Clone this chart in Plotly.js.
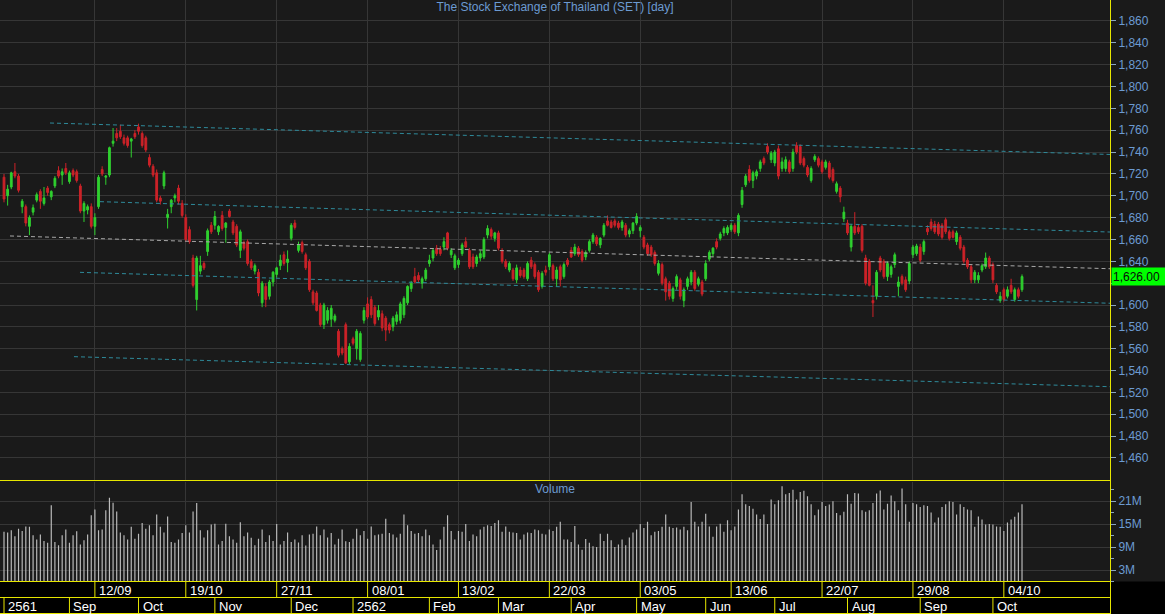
<!DOCTYPE html>
<html><head><meta charset="utf-8">
<script src="https://cdn.plot.ly/plotly-3.0.1.min.js"></script>
<style>html,body{margin:0;padding:0;background:#1a1a1a;overflow:hidden}#chart{width:1165px;height:614px}</style>
</head><body><div id="chart"></div>
<script>
// ---------------- DATA ----------------
const chartTitle = 'The Stock Exchange of Thailand (SET) [day]';

const openPx = [
1717,1700,1708,1722,1718,1690,1690,1672,1685,1696,1704,1693,1707,1699,1709,1723,1719,1725,1713,1723,1722,1709,1686,1687,1690,1672,1690,1724,1717,1719,1748,1757,1759,1753,1753,1750,1757,1763,1757,1753,1735,1727,1721,1698,1709,1680,1690,1698,1707,
1693,1680,1669,1643,1605,1631,1638,1649,1673,1673,1667,1682,1671,1686,1676,1672,1650,1657,1658,1640,1631,1630,1602,1617,1608,1621,1628,1636,1646,1639,1661,1675,1650,1657,1646,1640,1612,1611,1600,1582,1586,1587,1586,1576,1560,1582,1548,1569,1560,1550,
1586,1601,1605,1598,1589,1592,1588,1582,1580,1585,1586,1591,1602,1615,1626,1627,1620,1624,1638,1643,1652,1651,1653,1666,1646,1634,1637,1647,1658,1650,1644,1638,1643,1644,1664,1669,1661,1666,1650,1640,1632,1632,1623,1632,1632,1624,1641,1637,1630,1617,1632,
1635,1636,1624,1635,1626,1641,1650,1647,1652,1649,1644,1650,1658,1662,1655,1664,1677,1676,1677,1675,1671,1673,1665,1668,1675,1668,1662,1655,1653,1648,1629,1637,1624,1620,1606,1617,1623,1604,1617,1621,1630,1619,1621,1624,1642,1647,1658,1661,1666,1666,
1669,1673,1666,1692,1710,1724,1714,1718,1725,1734,1745,1733,1730,1743,1725,1725,1731,1725,1746,1745,1734,1726,1714,1733,1734,1731,1726,1730,1724,1704,1707,1679,1675,1653,1672,1671,1672,1643,1640,1604,1608,1643,1640,1626,1628,1637,1617,1626,
1623,1622,1646,1647,1653,1649,1670,1676,1674,1674,1673,1678,1667,1667,1658,1662,1653,1641,1635,1623,1623,1632,1635,1643,1637,1618,1604,1614,1608,1618,1605,1614,1614
];
const highPx = [
1720,1710,1722,1730,1720,1697,1692,1682,1692,1703,1706,1708,1709,1705,1718,1727,1725,1730,1723,1725,1724,1711,1695,1692,1693,1684,1719,1727,1719,1745,1762,1762,1765,1756,1755,1753,1760,1766,1759,1755,1738,1729,1724,1700,1723,1688,1697,1702,1710,
1696,1683,1672,1646,1645,1645,1640,1670,1676,1686,1673,1686,1676,1688,1678,1674,1669,1659,1660,1642,1638,1633,1622,1620,1623,1631,1635,1646,1649,1650,1675,1678,1658,1659,1648,1642,1614,1613,1602,1602,1598,1600,1592,1578,1562,1584,1565,1571,1578,1576,
1598,1607,1608,1600,1600,1595,1590,1584,1590,1594,1603,1608,1618,1622,1634,1630,1626,1634,1646,1652,1655,1654,1662,1667,1652,1647,1643,1657,1662,1652,1647,1646,1650,1662,1673,1671,1667,1668,1652,1642,1640,1634,1637,1635,1634,1640,1644,1639,1632,1631,1636,
1648,1638,1635,1637,1639,1643,1653,1656,1654,1651,1650,1660,1666,1664,1662,1675,1682,1678,1679,1677,1678,1675,1670,1676,1684,1673,1664,1657,1655,1650,1641,1639,1626,1622,1617,1628,1625,1616,1626,1632,1632,1626,1623,1641,1650,1653,1661,1667,1672,1673,
1675,1675,1684,1708,1720,1728,1723,1724,1733,1736,1748,1741,1742,1746,1735,1736,1733,1743,1749,1747,1736,1728,1727,1738,1736,1733,1733,1732,1726,1713,1709,1690,1678,1674,1685,1674,1674,1646,1642,1618,1632,1645,1642,1640,1637,1648,1626,1628,
1626,1640,1655,1656,1656,1660,1673,1679,1677,1676,1675,1680,1669,1669,1668,1664,1655,1643,1637,1632,1630,1638,1648,1645,1639,1620,1612,1616,1617,1624,1616,1616,1628
];
const lowPx = [
1694,1691,1706,1716,1703,1684,1672,1664,1682,1694,1688,1691,1700,1696,1707,1716,1710,1719,1711,1717,1712,1684,1676,1683,1670,1664,1688,1718,1710,1717,1745,1750,1752,1746,1744,1735,1752,1756,1744,1740,1726,1717,1694,1692,1706,1670,1684,1694,1692,
1680,1658,1656,1616,1595,1628,1632,1645,1665,1669,1664,1668,1657,1680,1664,1653,1643,1650,1636,1632,1628,1608,1598,1598,1605,1617,1625,1632,1636,1630,1659,1669,1648,1647,1632,1612,1600,1594,1580,1578,1583,1580,1584,1552,1554,1546,1546,1563,1550,1548,
1583,1587,1588,1581,1586,1576,1567,1574,1576,1582,1583,1588,1600,1612,1620,1621,1615,1622,1635,1640,1645,1645,1650,1650,1643,1632,1634,1645,1652,1633,1633,1635,1640,1642,1661,1660,1658,1650,1638,1633,1630,1622,1620,1625,1624,1622,1633,1624,1612,1615,1627,
1632,1622,1617,1617,1624,1635,1643,1645,1644,1639,1641,1648,1656,1654,1652,1662,1672,1670,1671,1669,1668,1662,1662,1665,1673,1662,1651,1645,1644,1636,1627,1618,1604,1605,1603,1614,1605,1598,1614,1618,1613,1617,1608,1622,1640,1644,1651,1659,1663,1664,
1667,1665,1663,1689,1708,1712,1707,1715,1722,1728,1738,1730,1727,1715,1722,1722,1720,1722,1738,1728,1726,1717,1712,1731,1726,1720,1724,1715,1712,1702,1694,1676,1664,1649,1664,1665,1648,1618,1617,1589,1605,1630,1624,1622,1625,1634,1608,1618,
1612,1619,1643,1645,1639,1646,1664,1668,1665,1663,1660,1665,1659,1661,1655,1650,1638,1633,1620,1620,1620,1630,1633,1633,1620,1610,1602,1603,1606,1610,1603,1606,1612
];
const closePx = [
1697,1706,1721,1718,1705,1695,1675,1680,1689,1701,1695,1698,1703,1704,1716,1718,1722,1721,1721,1719,1714,1686,1693,1690,1672,1680,1717,1720,1718,1744,1750,1753,1754,1748,1746,1752,1754,1759,1746,1742,1728,1719,1696,1695,1721,1683,1696,1700,1695,
1682,1660,1658,1618,1643,1636,1634,1668,1667,1681,1672,1670,1675,1681,1666,1655,1667,1652,1638,1634,1636,1611,1620,1605,1621,1630,1634,1641,1638,1642,1673,1671,1655,1649,1634,1614,1602,1595,1582,1600,1595,1597,1590,1554,1556,1547,1562,1565,1576,1574,
1595,1589,1591,1583,1595,1579,1577,1577,1588,1591,1601,1606,1617,1620,1621,1623,1624,1632,1641,1650,1647,1647,1658,1652,1650,1645,1641,1655,1653,1635,1635,1644,1647,1660,1670,1663,1666,1652,1640,1635,1638,1624,1634,1627,1626,1638,1635,1626,1614,1629,1630,
1646,1624,1632,1623,1637,1637,1644,1653,1646,1641,1648,1658,1664,1656,1661,1673,1673,1671,1673,1671,1676,1664,1668,1675,1681,1671,1653,1647,1646,1638,1638,1620,1612,1608,1615,1626,1608,1614,1624,1630,1615,1624,1610,1638,1648,1652,1653,1665,1670,1671,
1673,1667,1682,1705,1718,1714,1721,1722,1731,1730,1740,1739,1740,1718,1731,1733,1722,1740,1740,1730,1728,1719,1725,1736,1728,1722,1731,1717,1714,1711,1699,1685,1666,1672,1666,1667,1650,1620,1618,1602,1630,1632,1626,1638,1635,1646,1621,1620,
1614,1638,1653,1654,1641,1658,1667,1670,1667,1665,1662,1667,1661,1662,1666,1652,1640,1635,1623,1630,1627,1636,1643,1635,1623,1612,1608,1605,1614,1612,1614,1608,1626
];
// volume in millions of shares
const volumeM = [
13.0,12.8,13.4,11.8,13.8,13.2,14.4,14.3,12.1,11.0,
12.3,10.6,10.1,19.9,10.3,9.5,12.1,13.6,10.1,12.1,
13.1,9.7,10.8,12.3,17.3,18.8,13.4,13.6,18.6,21.9,
20.6,18.3,12.8,12.1,11.0,14.3,11.2,12.5,15.3,13.8,
14.7,12.1,17.5,14.3,12.8,17.0,10.3,10.1,11.0,12.7,
14.7,12.8,18.3,20.5,13.4,11.5,13.4,14.9,15.1,9.7,
10.6,15.1,11.8,11.0,10.1,15.5,11.8,12.8,11.4,9.5,
11.2,13.6,10.3,12.1,10.6,15.0,9.7,10.6,12.8,10.3,
11.0,10.2,12.1,9.4,12.3,12.5,14.4,12.1,13.6,11.5,
12.7,9.7,11.2,13.6,10.5,10.3,11.2,13.8,12.1,13.2,
11.2,14.4,12.1,12.3,12.5,16.4,12.7,12.3,11.5,12.5,
17.5,14.7,13.2,12.5,12.7,11.8,13.6,12.1,9.7,8.2,
11.0,14.3,17.3,13.2,11.0,13.2,13.0,15.0,10.6,12.3,
11.8,13.6,14.3,14.7,14.5,15.3,16.0,13.0,14.4,13.0,
12.8,
12.7,11.0,12.3,12.8,12.7,13.6,13.4,12.5,12.3,13.6,
13.2,14.3,15.6,11.0,11.0,10.3,14.5,9.7,8.3,11.1,
10.1,9.2,9.0,12.5,10.6,12.5,10.8,9.0,9.7,11.0,
9.5,11.5,12.8,13.6,15.0,14.0,15.6,12.1,13.0,13.2,
14.3,17.5,14.3,14.0,14.1,13.6,14.3,13.4,20.8,15.6,
14.4,15.6,17.7,14.4,11.7,14.4,15.1,13.0,16.0,13.4,
14.4,18.8,22.8,20.2,19.7,19.0,17.5,16.3,17.5,15.0,
21.4,20.2,21.2,24.9,22.8,23.1,24.0,21.4,23.4,23.7,
22.3,20.2,17.3,18.8,20.8,19.7,20.1,21.0,17.9,17.3,
18.2,22.8,20.3,23.1,23.0,18.6,18.2,18.6,20.5,23.0,
23.8,18.8,20.3,22.5,21.0,18.6,24.3,20.2,15.6,20.5,
20.2,19.5,19.9,19.7,18.0,15.4,16.7,19.5,20.2,21.0,
20.8,17.5,20.2,19.5,18.8,18.6,14.3,17.0,16.2,14.9,
15.0,14.9,14.4,14.3,13.2,15.4,16.2,16.9,18.0,20.2
];

// price-axis and volume-axis tick labels (1,620 is hidden behind the last-price box in the reference)
const priceTicks = [1460,1480,1500,1520,1540,1560,1580,1600,1620,1640,1660,1680,1700,1720,1740,1760,1780,1800,1820,1840,1860];
const priceTickText = ['1,460','1,480','1,500','1,520','1,540','1,560','1,580','1,600','','1,640','1,660','1,680','1,700','1,720','1,740','1,760','1,780','1,800','1,820','1,840','1,860'];
const volumeTicks = [3,9,15,21];
const volumeTickText = ['3M','9M','15M','21M'];

// bottom date strip: every 25 bars, and month starts (bar index)
const dateLabels = ['12/09','19/10','27/11','08/01','13/02','22/03','03/05','13/06','22/07','29/08','04/10'];
const dateLabelBars = [25,50,75,100,125,150,175,200,225,250,275];
const monthLabels = ['2561','Sep','Oct','Nov','Dec','2562','Feb','Mar','Apr','May','Jun','Jul','Aug','Sep','Oct'];
const monthStartBars = [0,18,37,58,79,96,117,136,156,174,193,212,232,252,272];

// drawn trend lines (bar index / price at both ends)
const trendStartBar   = [12.65, 26.4, 1.65, 20.9, 19.25];
const trendStartPrice = [1766.6, 1694.6, 1663.2, 1629.9, 1552.7];
const trendEndBar     = [304.2, 304.2, 304.2, 304.2, 304.2];
const trendEndPrice   = [1737.8, 1666.8, 1633.2, 1601.6, 1525.2];
const trendColor      = ['#2e8a9a','#2e8a9a','#a8a8a8','#2e8a9a','#2e8a9a'];

// ---------------- CHART ----------------
const W = 1165, H = 614;
const PLOT_RIGHT = 1110;
const pxX = p => p / W;
const pxY = p => 1 - p / H;

const n = Math.min(openPx.length, highPx.length, lowPx.length, closePx.length);
const barIdx = Array.from({length: n}, (_, i) => i);
const volIdx = Array.from({length: volumeM.length}, (_, i) => i);

const GREEN = '#2fd02f', RED = '#cc2228';
const YELLOW = '#e6e600';
const BLUE_TXT = '#6c9bd2';
const GRID = '#363636';
const FONT = 'Liberation Sans, Arial, sans-serif';

const traces = [];
for (let k = 0; k < trendStartBar.length; k++) {
  traces.push({
    type: 'scatter', mode: 'lines', xaxis: 'x', yaxis: 'y',
    x: [trendStartBar[k], trendEndBar[k]],
    y: [trendStartPrice[k], trendEndPrice[k]],
    line: {color: trendColor[k], width: 1, dash: '4px,3px'},
    hoverinfo: 'skip'
  });
}
traces.push({
  type: 'candlestick', xaxis: 'x', yaxis: 'y',
  x: barIdx.slice(0, n), open: openPx.slice(0, n), high: highPx.slice(0, n),
  low: lowPx.slice(0, n), close: closePx.slice(0, n),
  increasing: {line: {color: GREEN, width: 1}, fillcolor: GREEN},
  decreasing: {line: {color: RED, width: 1}, fillcolor: RED},
  whiskerwidth: 0, hoverinfo: 'skip'
});
traces.push({
  type: 'bar', xaxis: 'x2', yaxis: 'y2',
  x: volIdx, y: volumeM, width: 0.32,
  marker: {color: '#bdbdbd', line: {width: 0}},
  hoverinfo: 'skip'
});

const shapes = [];
const hline = (py, x0px, x1px) => shapes.push({type:'line', xref:'paper', yref:'paper',
  x0: pxX(x0px), x1: pxX(x1px), y0: pxY(py), y1: pxY(py), line:{color: YELLOW, width: 1}});
// bottom black strip
shapes.push({type:'rect', xref:'paper', yref:'paper', x0:0, x1:1, y0:0, y1:pxY(581.5),
  fillcolor:'#000000', line:{width:0}, layer:'below'});
hline(480.5, 0, PLOT_RIGHT);
hline(581.5, 0, PLOT_RIGHT);
hline(597.5, 0, PLOT_RIGHT);
hline(613.5, 0, PLOT_RIGHT);
shapes.push({type:'line', xref:'paper', yref:'paper', x0:pxX(PLOT_RIGHT+0.5), x1:pxX(PLOT_RIGHT+0.5),
  y0:0, y1:pxY(480), line:{color: YELLOW, width:1}});
dateLabelBars.forEach(b => shapes.push({type:'line', xref:'x', yref:'paper', x0:b, x1:b,
  y0:pxY(597.5), y1:pxY(581.5), line:{color: YELLOW, width:1}}));
monthStartBars.forEach(b => shapes.push({type:'line', xref:'x', yref:'paper', x0:b, x1:b,
  y0:pxY(613.5), y1:pxY(597.5), line:{color: YELLOW, width:1}}));

const annotations = [];
dateLabels.forEach((t, i) => annotations.push({xref:'x', yref:'paper', x: dateLabelBars[i], y: pxY(590),
  xanchor:'left', yanchor:'middle', xshift: 2, text: t, showarrow:false,
  font:{family: FONT, size: 13, color:'#ffffff'}}));
monthLabels.forEach((t, i) => annotations.push({xref:'x', yref:'paper', x: monthStartBars[i], y: pxY(606),
  xanchor:'left', yanchor:'middle', xshift: 2, text: t, showarrow:false,
  font:{family: FONT, size: 13, color:'#ffffff'}}));
annotations.push({xref:'paper', yref:'paper', x: pxX(555), y: pxY(489), xanchor:'center', yanchor:'middle',
  text:'Volume', showarrow:false, font:{family: FONT, size: 12, color: BLUE_TXT}});
const lastClose = closePx[n - 1];
annotations.push({xref:'paper', yref:'y', x: pxX(PLOT_RIGHT + 1), y: lastClose, xanchor:'left', yanchor:'middle',
  text: lastClose.toLocaleString('en-US', {minimumFractionDigits: 2, maximumFractionDigits: 2}),
  showarrow:false, bgcolor:'#00ff00', width: 52, height: 15, align:'left', borderpad: 1,
  font:{family: FONT, size: 12, color:'#0a0a0a'}});

const xCommon = {
  domain: [0, PLOT_RIGHT / W], range: [-1.1, 304.2], type: 'linear',
  tickvals: dateLabelBars, showticklabels: false, ticks: '',
  showgrid: true, gridcolor: GRID, gridwidth: 1, zeroline: false, showline: false, fixedrange: true
};

const layout = {
  width: W, height: H,
  margin: {l: 0, r: 0, t: 0, b: 0},
  paper_bgcolor: '#1a1a1a', plot_bgcolor: '#1a1a1a',
  showlegend: false, hovermode: false, dragmode: false,
  font: {family: FONT, size: 12, color: BLUE_TXT},
  title: {text: chartTitle, x: pxX(555), xanchor: 'center', xref: 'paper', y: pxY(7), yanchor: 'middle',
    yref: 'paper', font: {family: FONT, size: 12, color: BLUE_TXT}},
  boxgap: 0.3,
  xaxis: Object.assign({}, xCommon, {anchor: 'y', rangeslider: {visible: false}}),
  xaxis2: Object.assign({}, xCommon, {anchor: 'y2', matches: 'x'}),
  yaxis: {
    domain: [pxY(480), 1], range: [1439.8, 1879.2], side: 'right', anchor: 'x',
    tickvals: priceTicks, ticktext: priceTickText,
    ticks: 'outside', ticklen: 5, tickcolor: '#8aa4c4',
    tickfont: {family: FONT, size: 12, color: BLUE_TXT},
    showgrid: true, gridcolor: GRID, zeroline: false,
    showline: true, linecolor: YELLOW, linewidth: 1, fixedrange: true
  },
  yaxis2: {
    domain: [pxY(581.5), pxY(482)], range: [0, 26], side: 'right', anchor: 'x2',
    tickvals: volumeTicks, ticktext: volumeTickText,
    ticks: 'outside', ticklen: 5, tickcolor: '#8aa4c4',
    minor: {dtick: 3, ticks: 'outside', ticklen: 3, tickcolor: '#8aa4c4', showgrid: false},
    tickfont: {family: FONT, size: 12, color: BLUE_TXT},
    showgrid: true, gridcolor: GRID, zeroline: false,
    showline: true, linecolor: YELLOW, linewidth: 1, fixedrange: true
  },
  shapes: shapes,
  annotations: annotations
};

Plotly.newPlot('chart', traces, layout, {staticPlot: true, displayModeBar: false});
</script></body></html>
